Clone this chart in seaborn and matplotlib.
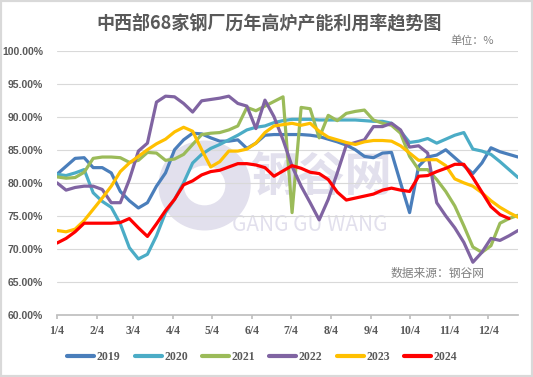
import numpy as np
import pandas as pd
import matplotlib.pyplot as plt
import matplotlib.patches as mpatches
import seaborn as sns

# weekly points, first one on 4 Jan, one week apart
weeks = np.arange(52)
days = 3 + 7 * weeks

y2019 = [81.3, 82.5, 83.7, 83.8, 82.3, 82.3, 81.5, 78.7, 77.3, 76.2, 77.0, 79.5, 81.5,
         85.0, 86.5, 87.5, 87.4, 86.8, 86.3, 86.3, 86.5, 85.2, 86.0, 87.2, 87.3, 87.3,
         87.3, 87.3, 87.2, 87.0, 86.6, 86.2, 85.7, 85.0, 84.0, 83.8, 84.5, 84.6, 80.0,
         75.5, 82.5, 83.9, 84.2, 85.0, 83.8, 82.6, 81.4, 83.0, 85.3, 84.7, 84.3, 83.9]
y2020 = [81.3, 81.1, 81.5, 82.0, 78.5, 77.2, 76.3, 73.8, 70.2, 68.5, 69.2, 72.0, 75.5,
         77.5, 80.0, 83.0, 84.3, 85.2, 85.8, 86.5, 87.2, 88.0, 88.4, 88.6, 89.1, 89.4,
         89.6, 89.6, 89.6, 89.5, 89.5, 89.5, 89.5, 89.5, 89.4, 89.3, 89.3, 89.0, 87.8,
         86.1, 86.3, 86.7, 86.0, 86.6, 87.2, 87.6, 85.1, 84.8, 84.3, 83.2, 82.0, 80.8]
y2021 = [80.9, 80.7, 80.8, 81.6, 83.7, 83.9, 83.9, 83.8, 83.1, 83.4, 84.6, 84.5, 83.4,
         83.6, 84.3, 85.8, 87.3, 87.5, 87.6, 88.0, 88.6, 91.4, 90.9, 91.6, 92.3, 93.0,
         75.5, 91.4, 91.2, 86.8, 90.2, 89.4, 90.5, 90.8, 91.0, 89.5, 89.0, 88.7, 87.5,
         84.0, 82.0, 82.0, 80.5, 78.7, 76.5, 73.5, 70.3, 69.5, 70.5, 73.9, 74.6, 75.1]
y2022 = [80.0, 78.9, 79.3, 79.5, 79.5, 79.0, 77.0, 77.0, 80.5, 84.8, 86.0, 92.2, 93.1,
         93.0, 92.0, 90.7, 92.4, 92.6, 92.8, 93.1, 92.0, 91.6, 88.2, 92.5, 90.0, 86.5,
         82.5, 79.5, 77.0, 74.4, 77.5, 81.5, 85.7, 86.1, 86.5, 88.5, 88.5, 89.0, 88.0,
         85.4, 85.6, 84.5, 77.0, 75.0, 73.2, 71.0, 68.0, 69.5, 71.6, 71.3, 72.0, 72.8]
y2023 = [72.8, 72.6, 73.0, 74.3, 76.0, 77.7, 79.5, 81.7, 83.0, 84.0, 85.0, 85.9, 86.6,
         87.7, 88.4, 87.8, 85.0, 82.4, 83.2, 84.8, 84.8, 85.1, 86.0, 87.6, 88.6, 88.8,
         89.0, 88.7, 89.0, 87.8, 86.9, 86.5, 86.1, 85.8, 86.2, 86.4, 86.4, 86.3, 85.6,
         84.5, 83.4, 83.5, 83.5, 82.6, 80.6, 80.0, 79.5, 78.5, 77.3, 76.3, 75.5, 74.8]
y2024 = [70.9, 71.6, 72.6, 73.9, 73.9, 73.9, 73.9, 74.0, 74.6, 73.2, 71.9, 73.8, 75.8,
         77.5, 79.7, 80.3, 81.2, 81.7, 81.9, 82.4, 82.9, 82.9, 82.7, 82.3, 81.0, 81.8,
         82.6, 82.2, 81.6, 81.4, 80.5, 78.6, 77.4, 77.7, 78.0, 78.3, 78.9, 79.2, 78.9,
         78.7, 81.0, 81.1, 81.7, 82.2, 82.8, 82.8, 80.8, 78.6, 76.4, 75.2, 74.6, np.nan]

years = ["2019", "2020", "2021", "2022", "2023", "2024"]
colors = ["#4A7EBB", "#4BACC6", "#9BBB59", "#8064A2", "#FFC000", "#FF0000"]
tick_days = [3, 34, 62, 93, 123, 154, 184, 215, 246, 276, 307, 337]
tick_labels = ["1/4", "2/4", "3/4", "4/4", "5/4", "6/4", "7/4", "8/4", "9/4", "10/4", "11/4", "12/4"]

rows = []
for yr, vals in zip(years, [y2019, y2020, y2021, y2022, y2023, y2024]):
    for d, v in zip(days, vals):
        rows.append({"day": d, "rate": v, "year": yr})
df = pd.DataFrame(rows).dropna()

sns.set_theme(style="white")
plt.rcParams["font.family"] = ["Noto Sans CJK SC", "DejaVu Sans"]

fig = plt.figure(figsize=(5.33, 3.77), dpi=100)
ax = fig.add_axes([0.107, 0.164, 0.865, 0.702])

# watermark (logo + name)
wm = "#E2E0ED"
ax.add_patch(mpatches.Ellipse((0.32, 0.49), 0.2, 0.34, transform=ax.transAxes, facecolor=wm,
                              edgecolor="none", zorder=0))
ax.add_patch(mpatches.Ellipse((0.32, 0.49), 0.09, 0.15, transform=ax.transAxes, facecolor="white",
                              edgecolor="none", zorder=0))
ax.text(0.42, 0.52, "钢谷网", transform=ax.transAxes, fontsize=34, color=wm,
        ha="left", va="center", fontweight="bold", zorder=0)
ax.text(0.38, 0.34, "GANG GU WANG", transform=ax.transAxes, fontsize=15, color=wm,
        ha="left", va="center", zorder=0)

sns.lineplot(data=df, x="day", y="rate", hue="year", palette=dict(zip(years, colors)),
             linewidth=2.3, ax=ax, zorder=3)

ax.set_xlim(3, 360)
ax.set_ylim(60, 100)
ax.set_yticks(np.arange(60, 101, 5))
ax.set_yticklabels([f"{v:.2f}%" for v in np.arange(60, 101, 5)], fontsize=7.5,
                   color="#595959", fontweight="bold", family=["Liberation Sans", "DejaVu Sans"])
ax.set_xticks(tick_days)
ax.set_xticklabels(tick_labels, fontsize=8.5, color="#595959", fontweight="bold",
                   family=["Liberation Serif", "DejaVu Serif"])
ax.tick_params(axis="x", length=3, color="#BFBFBF", pad=4, bottom=True)
ax.tick_params(axis="y", length=0, pad=10)
ax.grid(axis="y", color="#D9D9D9", linewidth=0.8)
ax.set_xlabel("")
ax.set_ylabel("")
for s in ["top", "right", "left"]:
    ax.spines[s].set_visible(False)
ax.spines["bottom"].set_color("#BFBFBF")

handles, labels = ax.get_legend_handles_labels()
leg = ax.legend(handles, labels, loc="center", bbox_to_anchor=(0.445, -0.158), ncol=6,
                frameon=False, handlelength=2.3, columnspacing=1.2, handletextpad=0.2,
                prop={"family": ["Liberation Serif", "DejaVu Serif"], "weight": "bold", "size": 8.5},
                labelcolor="#595959")
for ln in leg.get_lines():
    ln.set_linewidth(3)

fig.text(0.505, 0.94, "中西部68家钢厂历年高炉产能利用率趋势图", ha="center", va="center",
         fontsize=13, color="#595959", fontweight="bold")
fig.text(0.885, 0.893, "单位：%", ha="center", va="center", fontsize=8, color="#7F7F7F")
fig.text(0.82, 0.275, "数据来源：钢谷网", ha="center", va="center", fontsize=8.5, color="#7F7F7F")

fig.patches.append(mpatches.Rectangle((0, 0), 1, 1, transform=fig.transFigure, fill=False,
                                      edgecolor="#D9D9D9", linewidth=3))

fig.savefig("out.png", dpi=100)
